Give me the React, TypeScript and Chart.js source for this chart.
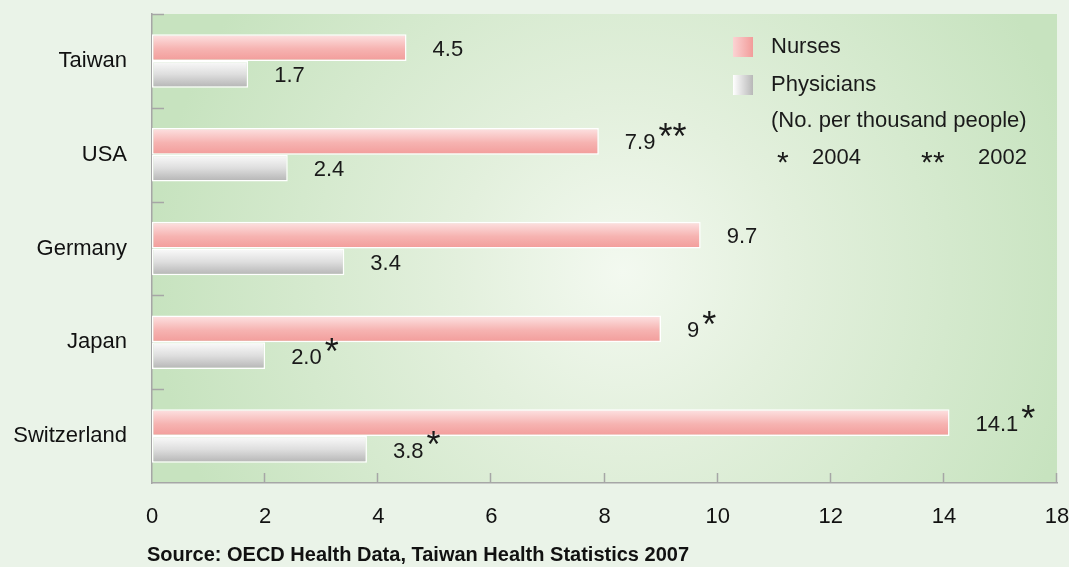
import React, { useEffect, useRef } from "react";
import { Chart, registerables } from "chart.js";

Chart.register(...registerables);

const categories = ["Taiwan", "USA", "Germany", "Japan", "Switzerland"];
const nurses = [4.5, 7.9, 9.7, 9.0, 14.1];
const physicians = [1.7, 2.4, 3.4, 2.0, 3.8];
const nurseLabels = ["4.5", "7.9", "9.7", "9", "14.1"];
const physicianLabels = ["1.7", "2.4", "3.4", "2.0", "3.8"];
const nurseNotes = ["", "**", "", "*", "*"];
const physicianNotes = ["", "", "", "*", "*"];
const xTickLabels = ["0", "2", "4", "6", "8", "10", "12", "14", "18"];
const seriesNames = ["Nurses", "Physicians"];
const unitNote = "(No. per thousand people)";
const yearNotes = [
  ["*", "2004"],
  ["**", "2002"],
];
const sourceText = "Source: OECD Health Data, Taiwan Health Statistics 2007";

const FONT = "'Liberation Sans', Arial, sans-serif";
const CAT_PCT = 0.57;

function barGradient(ctx: any, which: number) {
  const chart = ctx.chart;
  const yScale = chart.scales.y;
  if (!chart.chartArea || !yScale) return which === 0 ? "#f4a3a1" : "#c8c8c8";
  const center = yScale.getPixelForValue(ctx.dataIndex);
  const cw = yScale.getPixelForValue(1) - yScale.getPixelForValue(0);
  const bw = (cw * CAT_PCT) / 2;
  const top = which === 0 ? center - bw : center;
  const g = chart.ctx.createLinearGradient(0, top, 0, top + bw);
  if (which === 0) {
    g.addColorStop(0, "#fde3e3");
    g.addColorStop(0.55, "#f6b3b1");
    g.addColorStop(1, "#f29c9a");
  } else {
    g.addColorStop(0, "#fbfbfb");
    g.addColorStop(0.5, "#dedede");
    g.addColorStop(1, "#b4b4b4");
  }
  return g;
}

function drawStars(ctx: any, stars: string, x: number, baseline: number, size: number, step: number) {
  ctx.font = `${size}px ${FONT}`;
  ctx.textBaseline = "alphabetic";
  for (let k = 0; k < stars.length; k++) {
    ctx.fillText(stars[k], x + k * step, baseline);
  }
}

const decorPlugin = {
  id: "decor",
  beforeDraw(chart: any) {
    const { ctx, chartArea: a, width, height } = chart;
    ctx.save();
    ctx.fillStyle = "#eaf3e8";
    ctx.fillRect(0, 0, width, height);
    const cx = a.left + (a.right - a.left) * 0.52;
    const cy = a.top + (a.bottom - a.top) * 0.55;
    const g = ctx.createRadialGradient(cx, cy, 0, cx, cy, 470);
    g.addColorStop(0, "#f3f9f0");
    g.addColorStop(0.35, "#e3f0dd");
    g.addColorStop(1, "#c7e3bf");
    ctx.fillStyle = g;
    ctx.fillRect(a.left, a.top, a.right - a.left, a.bottom - a.top);
    ctx.restore();
  },
  afterDraw(chart: any) {
    const { ctx, chartArea: a } = chart;
    const xs = chart.scales.x;
    const ys = chart.scales.y;
    ctx.save();
    // tick marks inside the plot
    ctx.strokeStyle = "#a6a6a6";
    ctx.lineWidth = 1.5;
    xs.ticks.forEach((t: any) => {
      if (t.value === 0) return;
      const x = Math.round(xs.getPixelForValue(t.value)) - 0.5;
      ctx.beginPath();
      ctx.moveTo(x, a.bottom);
      ctx.lineTo(x, a.bottom - 10);
      ctx.stroke();
    });
    const cw = ys.getPixelForValue(1) - ys.getPixelForValue(0);
    for (let i = 0; i < categories.length; i++) {
      const y = Math.round(ys.getPixelForValue(i) - cw / 2) + 0.5;
      ctx.beginPath();
      ctx.moveTo(a.left, y);
      ctx.lineTo(a.left + 12, y);
      ctx.stroke();
    }

    // value labels
    ctx.fillStyle = "#1a1a1a";
    ctx.textAlign = "left";
    const sets = [
      { labels: nurseLabels, notes: nurseNotes },
      { labels: physicianLabels, notes: physicianNotes },
    ];
    sets.forEach((s, di) => {
      const meta = chart.getDatasetMeta(di);
      meta.data.forEach((el: any, i: number) => {
        const x = el.x + 26;
        const y = el.y + 2;
        ctx.font = `22px ${FONT}`;
        ctx.textBaseline = "middle";
        ctx.fillText(s.labels[i], x, y);
        const w = ctx.measureText(s.labels[i]).width;
        if (s.notes[i]) drawStars(ctx, s.notes[i], x + w + 3, y + 6, 36, 14);
      });
    });

    // legend
    const lx = 733;
    const tx = 771;
    const rows = [47, 85];
    const swatches = [
      ["#fbd3d3", "#f29c9a"],
      ["#ffffff", "#b8b8b8"],
    ];
    seriesNames.forEach((name, i) => {
      const g = ctx.createLinearGradient(lx, 0, lx + 20, 0);
      g.addColorStop(0, swatches[i][0]);
      g.addColorStop(1, swatches[i][1]);
      ctx.fillStyle = g;
      ctx.fillRect(lx, rows[i] - 10, 20, 20);
      ctx.fillStyle = "#1a1a1a";
      ctx.font = `22px ${FONT}`;
      ctx.textBaseline = "middle";
      ctx.fillText(name, tx, rows[i]);
    });
    ctx.fillText(unitNote, tx, 121);
    const noteX = [
      [777, 812],
      [921, 978],
    ];
    yearNotes.forEach((n, i) => {
      drawStars(ctx, n[0], noteX[i][0], 172, 30, 12);
      ctx.font = `22px ${FONT}`;
      ctx.textBaseline = "middle";
      ctx.fillText(n[1], noteX[i][1], 158);
    });

    // source
    ctx.font = `bold 20px ${FONT}`;
    ctx.textBaseline = "middle";
    ctx.fillStyle = "#111";
    ctx.fillText(sourceText, 147, 555);
    ctx.restore();
  },
};

function noPad(s: any) {
  s.paddingTop = 0;
  s.paddingBottom = 0;
  s.paddingLeft = 0;
  s.paddingRight = 0;
}

export default function App() {
  const ref = useRef<HTMLCanvasElement>(null);
  useEffect(() => {
    document.body.style.margin = "0";
    const chart = new Chart(ref.current!, {
      type: "bar",
      data: {
        labels: categories,
        datasets: [
          {
            label: seriesNames[0],
            data: nurses,
            backgroundColor: (c: any) => barGradient(c, 0),
            borderColor: "#ffffff",
            borderWidth: 1.5,
            borderSkipped: false,
            categoryPercentage: CAT_PCT,
            barPercentage: 1,
          },
          {
            label: seriesNames[1],
            data: physicians,
            backgroundColor: (c: any) => barGradient(c, 1),
            borderColor: "#ffffff",
            borderWidth: 1.5,
            borderSkipped: false,
            categoryPercentage: CAT_PCT,
            barPercentage: 1,
          },
        ],
      },
      options: {
        indexAxis: "y",
        responsive: false,
        animation: false,
        layout: { padding: { top: 14, right: 12, left: 0, bottom: 0 } },
        plugins: { legend: { display: false }, tooltip: { enabled: false } },
        scales: {
          x: {
            min: 0,
            max: 16,
            ticks: {
              stepSize: 2,
              callback: (_v: any, i: number) => xTickLabels[i],
              font: { family: FONT, size: 22 },
              color: "#111",
              padding: 21,
              maxRotation: 0,
            },
            grid: { display: false, drawTicks: false },
            border: { display: true, color: "#a6a6a6", width: 1.5 },
            afterFit: (s: any) => {
              s.height = 84;
              noPad(s);
            },
          },
          y: {
            ticks: {
              font: { family: FONT, size: 22 },
              color: "#111",
              padding: 25,
            },
            grid: { display: false, drawTicks: false, offset: true },
            border: { display: true, color: "#a6a6a6", width: 1.5 },
            afterFit: (s: any) => {
              s.width = 152;
              noPad(s);
            },
          },
        },
      },
      plugins: [decorPlugin],
    } as any);
    return () => chart.destroy();
  }, []);
  return (
    <div style={{ width: 1069, height: 567 }}>
      <canvas ref={ref} width={1069} height={567} />
    </div>
  );
}
